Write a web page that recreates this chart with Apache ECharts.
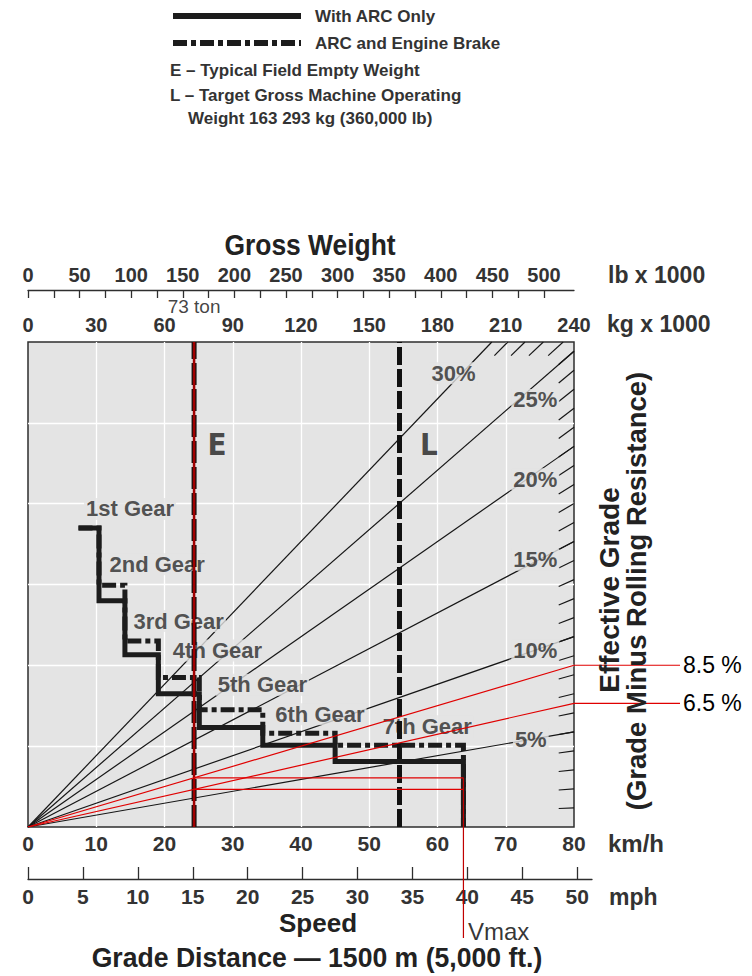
<!DOCTYPE html>
<html>
<head>
<meta charset="utf-8">
<title>Retarding performance</title>
<script src="https://cdn.jsdelivr.net/npm/echarts@6.0.0/dist/echarts.min.js"></script>
<style>
  html, body { margin: 0; padding: 0; background: #ffffff; }
  #chart { width: 752px; height: 976px; }
</style>
</head>
<body>
<div id="chart"></div>
<script>
// ---------- Axis scales ----------
const speedTicksKmh = [0, 10, 20, 30, 40, 50, 60, 70, 80];
const speedTicksMph = [0, 5, 10, 15, 20, 25, 30, 35, 40, 45, 50];
const weightTicksKg = [0, 30, 60, 90, 120, 150, 180, 210, 240];               // kg x 1000
const weightTicksLb = [0, 50, 100, 150, 200, 250, 300, 350, 400, 450, 500];   // lb x 1000
const weightMinorTicksLb = [0, 25, 50, 75, 100, 125, 150, 175, 200, 225, 250,
                            275, 300, 325, 350, 375, 400, 425, 450, 475, 500];

// ---------- Effective grade fan (%) ----------
const gradesLabelled = [5, 10, 15, 20, 25, 30];
const gradesHatched = [1, 2, 3, 4, 5, 6, 7, 8, 9, 10, 11, 12, 13, 14, 15,
                       16, 17, 18, 19, 20, 21, 22, 23, 24, 25, 26, 27, 28, 29];

// ---------- Retarding curves ----------
const gearNames = ['1st Gear', '2nd Gear', '3rd Gear', '4th Gear', '5th Gear', '6th Gear', '7th Gear'];
const shiftSpeedsKmh = [7.4, 10.4, 14.2, 19.1, 25.1, 34.4, 45.0, 63.8];
const forceArcOnly   = [370, 280, 213, 165, 123, 101, 81];    // kN
const forceArcEngine = [370, 299, 230, 185, 145, 116, 101];   // kN

// ---------- Worked example ----------
const emptyWeightT = 73;        // E, marked "73 ton"
const targetWeightT = 163.293;  // L
const exampleGrades = [8.5, 6.5];
const vmaxKmh = 63.8;

// ---------- Scale relations ----------
const KMH_MAX = 80, T_MAX = 240, F_MAX = 600, G = 9.81;
const LB_MAX = T_MAX / 0.45359237;
const PLOT = { left: 28, top: 342, width: 546, height: 485 };
const MPH_AXIS_WIDTH = 564;
const MPH_AXIS_MAX = (KMH_MAX / 1.609344) * (MPH_AXIS_WIDTH / PLOT.width);
const LEADER_WIDTH = 106;       // red leader lines run out to their labels, right of the plot

const FONT = '"Liberation Sans", Arial, Helvetica, sans-serif';
const INK = '#333333';
const PLOT_BG = '#e4e4e4';

const force = (t, pct) => t * G * pct / 100;
// point where a grade line leaves the plot (right edge or top edge)
function fanEnd(pct) {
  const f = force(T_MAX, pct);
  return f <= F_MAX ? [T_MAX, f] : [F_MAX / (G * pct / 100), F_MAX];
}
// staircase path: horizontal per gear, then drop at the shift speed
function stepPath(forces) {
  const pts = [];
  forces.forEach((f, i) => {
    pts.push([shiftSpeedsKmh[i], f]);
    pts.push([shiftSpeedsKmh[i + 1], f]);
  });
  pts.push([shiftSpeedsKmh[shiftSpeedsKmh.length - 1], 0]);
  return pts;
}

// label layout (pixels)
const GEAR_LABEL_OFFSET = [[5, -19], [8, -21], [6, -20], [12, -27], [16, -25], [10, -19], [45, -19]];
const GRADE_LABEL_AT_T = [221, 223, 223, 223, 223, 187];
const GRADE_LABEL_DY = [0, 0, -2, 6, 15, -9];

const chart = echarts.init(document.getElementById('chart'), null, { renderer: 'svg', width: 752, height: 976 });

function text(str, x, y, size, o = {}) {
  return {
    type: 'text', x, y, silent: true, z: 20,
    rotation: o.rotation || 0, scaleX: o.scaleX || 1,
    style: {
      text: str, fill: o.color || INK,
      font: `${o.weight || 'bold'} ${size}px ${FONT}`,
      textAlign: o.align || 'left', align: o.align || 'left',
      textVerticalAlign: 'middle', verticalAlign: 'middle'
    }
  };
}

const axisTextStyle = (size) => ({ fontSize: size, fontWeight: 'bold', color: INK, fontFamily: FONT });

const option = {
  animation: false,
  backgroundColor: '#ffffff',
  legend: {
    data: ['With ARC Only', 'ARC and Engine Brake'],
    orient: 'vertical', left: 170, top: 7.5, padding: 0,
    itemWidth: 128, itemHeight: 14, itemGap: 10,
    selectedMode: false,
    itemStyle: { opacity: 0 },
    lineStyle: { width: 6, opacity: 1 },
    textStyle: { fontSize: 17, fontWeight: 'bold', color: INK, fontFamily: FONT, padding: [0, 0, 0, 9], lineHeight: 17 }
  },
  grid: [
    { left: PLOT.left, top: PLOT.top, width: PLOT.width, height: PLOT.height,
      show: true, backgroundColor: PLOT_BG, borderColor: '#2e2e2e', borderWidth: 1.5 },
    { left: PLOT.left, top: 860, width: MPH_AXIS_WIDTH, height: 19 },
    { left: PLOT.left, top: PLOT.top + PLOT.height, width: PLOT.width, height: 111 },
    { left: PLOT.left + PLOT.width, top: PLOT.top, width: LEADER_WIDTH, height: PLOT.height }
  ],
  xAxis: [
    { // speed, km/h
      type: 'value', gridIndex: 0, position: 'bottom', min: 0, max: KMH_MAX,
      interval: speedTicksKmh[1] - speedTicksKmh[0],
      axisLine: { show: false, onZero: false }, axisTick: { show: false },
      axisLabel: Object.assign({ margin: 6, interval: 0 }, axisTextStyle(21)),
      splitLine: { show: true, showMinLine: false, showMaxLine: false, lineStyle: { color: '#ffffff', width: 1.3 } }
    },
    { // gross weight, kg x 1000
      type: 'value', gridIndex: 0, position: 'top', min: 0, max: T_MAX,
      interval: weightTicksKg[1] - weightTicksKg[0],
      axisLine: { show: false, onZero: false }, axisTick: { show: false },
      axisLabel: Object.assign({ margin: 9, interval: 0, lineHeight: 17 }, axisTextStyle(20)),
      splitLine: { show: false }
    },
    { // gross weight, lb x 1000
      type: 'value', gridIndex: 0, position: 'top', offset: 52, min: 0, max: LB_MAX,
      axisLine: { show: true, onZero: false, lineStyle: { color: '#2e2e2e', width: 1.3 } },
      axisTick: { show: true, customValues: weightMinorTicksLb, inside: true, length: 8, lineStyle: { color: '#2e2e2e', width: 1.3 } },
      axisLabel: Object.assign({ customValues: weightTicksLb, margin: 5 }, axisTextStyle(20)),
      splitLine: { show: false }
    },
    { // speed, mph
      type: 'value', gridIndex: 1, position: 'bottom', min: 0, max: MPH_AXIS_MAX,
      axisLine: { show: true, onZero: false, lineStyle: { color: '#2e2e2e', width: 1.3 } },
      axisTick: { show: true, customValues: speedTicksMph, inside: true, length: 12, lineStyle: { color: '#2e2e2e', width: 1.3 } },
      axisLabel: Object.assign({ customValues: speedTicksMph, margin: 7 }, axisTextStyle(21)),
      splitLine: { show: false }
    },
    { type: 'value', gridIndex: 2, min: 0, max: KMH_MAX, show: false },
    { type: 'value', gridIndex: 3, min: 0, max: 1, show: false }
  ],
  yAxis: [
    { type: 'value', gridIndex: 0, min: 0, max: F_MAX, interval: 100,
      axisLine: { show: false }, axisTick: { show: false }, axisLabel: { show: false },
      splitLine: { show: true, showMinLine: false, showMaxLine: false, lineStyle: { color: '#ffffff', width: 1.3 } } },
    { type: 'value', gridIndex: 1, min: 0, max: 1, show: false },
    { type: 'value', gridIndex: 2, min: 0, max: 1, show: false },
    { type: 'value', gridIndex: 3, min: 0, max: F_MAX, show: false }
  ],
  graphic: [
    text('E \u2013 Typical Field Empty Weight', 170, 70, 17),
    text('L \u2013 Target Gross Machine Operating', 170, 95, 17),
    text('Weight 163 293 kg (360,000 lb)', 188, 118, 17),
    text('Gross Weight', 310, 244, 30, { align: 'center', scaleX: 0.88, color: '#222' }),
    text('lb x 1000', 608, 275, 23),
    text('kg x 1000', 607, 324, 23),
    text('km/h', 608, 843, 24),
    text('mph', 609, 897, 23),
    text('Speed', 318, 923, 26, { align: 'center', color: '#222' }),
    text('Grade Distance \u2014 1500 m (5,000 ft.)', 317, 957, 28, { align: 'center', scaleX: 0.95, color: '#222' }),
    text('Effective Grade', 609, 590, 28, { align: 'center', rotation: Math.PI / 2, color: '#222' }),
    text('(Grade Minus Rolling Resistance)', 636, 591, 27.5, { align: 'center', rotation: Math.PI / 2, color: '#222' })
  ],
  series: [
    // grade fan
    { type: 'lines', coordinateSystem: 'cartesian2d', xAxisIndex: 1, yAxisIndex: 0, silent: true, z: 2,
      lineStyle: { color: '#161616', width: 1.2, opacity: 1, curveness: 0 },
      data: gradesLabelled.map(g => ({ coords: [[0, 0], fanEnd(g)] })) },
    // hatch marks where each whole percent meets the frame
    { type: 'lines', coordinateSystem: 'cartesian2d', xAxisIndex: 1, yAxisIndex: 0, silent: true, z: 2,
      lineStyle: { color: '#161616', width: 1.2, opacity: 1, curveness: 0 },
      data: gradesHatched.map(g => { const e = fanEnd(g); return { coords: [[e[0] * 0.972, e[1] * 0.972], e] }; }) },
    // grade labels
    { type: 'scatter', xAxisIndex: 1, yAxisIndex: 0, symbolSize: 1, silent: true, z: 3,
      itemStyle: { color: 'rgba(0,0,0,0)' },
      label: { show: true, position: 'inside', formatter: p => p.name, fontSize: 22, fontWeight: 'bold',
               color: '#2a2a2a', fontFamily: FONT, backgroundColor: PLOT_BG, padding: [0, 2] },
      data: gradesLabelled.map((g, i) => ({
        name: g + '%', value: [GRADE_LABEL_AT_T[i], force(GRADE_LABEL_AT_T[i], g)],
        label: { offset: [0, GRADE_LABEL_DY[i]] } })) },
    // gear labels
    { type: 'scatter', xAxisIndex: 0, yAxisIndex: 0, symbolSize: 1, silent: true, z: 3,
      itemStyle: { color: 'rgba(0,0,0,0)' },
      label: { show: true, position: 'right', distance: 0, formatter: p => p.name, fontSize: 22, fontWeight: 'bold',
               color: '#2a2a2a', fontFamily: FONT, backgroundColor: PLOT_BG, padding: [0, 2] },
      data: gearNames.map((n, i) => ({ name: n, value: [shiftSpeedsKmh[i], forceArcEngine[i]],
                                       label: { offset: GEAR_LABEL_OFFSET[i] } })) },
    // E and L weight lines
    { type: 'line', xAxisIndex: 1, yAxisIndex: 0, symbol: 'none', silent: true, z: 4,
      lineStyle: { color: '#111', width: 5, type: [22, 4], cap: 'butt' },
      data: [[emptyWeightT, 0], [emptyWeightT, F_MAX]] },
    { type: 'line', xAxisIndex: 1, yAxisIndex: 0, symbol: 'none', silent: true, z: 4,
      lineStyle: { color: '#111', width: 5, type: [18, 4], cap: 'butt' },
      data: [[targetWeightT, 0], [targetWeightT, F_MAX]] },
    { type: 'scatter', xAxisIndex: 1, yAxisIndex: 0, symbolSize: 1, silent: true, z: 4,
      itemStyle: { color: 'rgba(0,0,0,0)' },
      label: { show: true, position: 'right', formatter: p => p.name, fontSize: 31, fontWeight: 'bold',
               color: '#1e1e1e', fontFamily: '"Liberation Sans Narrow", "DejaVu Sans Condensed", ' + FONT },
      data: [
        { name: 'E', value: [emptyWeightT, F_MAX * 0.79], label: { distance: 13 } },
        { name: 'L', value: [targetWeightT, F_MAX * 0.79], label: { distance: 20 } }
      ] },
    // retarding curves
    { name: 'With ARC Only', type: 'line', xAxisIndex: 0, yAxisIndex: 0, symbol: 'none', silent: true, z: 5,
      lineStyle: { color: '#1c1c1c', width: 5, join: 'miter', cap: 'butt' },
      itemStyle: { color: '#1c1c1c' },
      data: stepPath(forceArcOnly) },
    { name: 'ARC and Engine Brake', type: 'line', xAxisIndex: 0, yAxisIndex: 0, symbol: 'none', silent: true, z: 5,
      lineStyle: { color: '#1c1c1c', width: 5, type: [14, 4, 5, 4], join: 'miter', cap: 'butt' },
      itemStyle: { color: '#1c1c1c' },
      data: stepPath(forceArcEngine) },
    // worked example: empty weight marker
    { type: 'line', xAxisIndex: 1, yAxisIndex: 0, symbol: 'none', silent: true, z: 7,
      lineStyle: { color: '#a00000', width: 2.5 },
      data: [[emptyWeightT, 0], [emptyWeightT, F_MAX]] },
    { type: 'scatter', xAxisIndex: 1, yAxisIndex: 0, symbolSize: 1, silent: true, z: 7,
      itemStyle: { color: 'rgba(0,0,0,0)' },
      label: { show: true, position: 'top', distance: 27, formatter: emptyWeightT + ' ton', fontSize: 19,
               lineHeight: 16, color: '#111', fontFamily: FONT },
      data: [[emptyWeightT, F_MAX]] },
    // worked example: grade rays from the origin to the frame
    ...exampleGrades.map(g => ({
      type: 'line', xAxisIndex: 1, yAxisIndex: 0, symbol: 'none', silent: true, z: 7,
      lineStyle: { color: '#e00000', width: 1.2 },
      data: [[0, 0], [T_MAX, force(T_MAX, g)]]
    })),
    // ... and their leaders out to the grade labels
    ...exampleGrades.map(g => ({
      type: 'line', xAxisIndex: 5, yAxisIndex: 3, symbol: 'none', silent: true, z: 7,
      lineStyle: { color: '#e00000', width: 1.2 },
      data: [[0, force(T_MAX, g)], [1, force(T_MAX, g)]],
      endLabel: { show: true, formatter: g + ' %', color: '#000', fontSize: 23, fontFamily: FONT, distance: 3 }
    })),
    // worked example: retarding force at the empty weight carried across to Vmax
    ...exampleGrades.map(g => ({
      type: 'line', xAxisIndex: 0, yAxisIndex: 0, symbol: 'none', silent: true, z: 7,
      lineStyle: { color: '#e00000', width: 1.2 },
      data: [[emptyWeightT / T_MAX * KMH_MAX, force(emptyWeightT, g)], [vmaxKmh, force(emptyWeightT, g)]]
    })),
    { type: 'line', xAxisIndex: 0, yAxisIndex: 0, symbol: 'none', silent: true, z: 7,
      lineStyle: { color: '#c00000', width: 1.2 },
      data: [[vmaxKmh, force(emptyWeightT, exampleGrades[0])], [vmaxKmh, 0]] },
    { type: 'line', xAxisIndex: 4, yAxisIndex: 2, symbol: 'none', silent: true, z: 7,
      lineStyle: { color: '#c00000', width: 1.2 },
      data: [[vmaxKmh, 0], [vmaxKmh, 1]] },
    { type: 'scatter', xAxisIndex: 4, yAxisIndex: 2, symbolSize: 1, silent: true, z: 7,
      itemStyle: { color: 'rgba(0,0,0,0)' },
      label: { show: true, position: 'right', distance: 4, formatter: 'Vmax', fontSize: 24, color: '#000', fontFamily: FONT },
      data: [[vmaxKmh, 0.06]] }
  ]
};

chart.setOption(option);
</script>
</body>
</html>
